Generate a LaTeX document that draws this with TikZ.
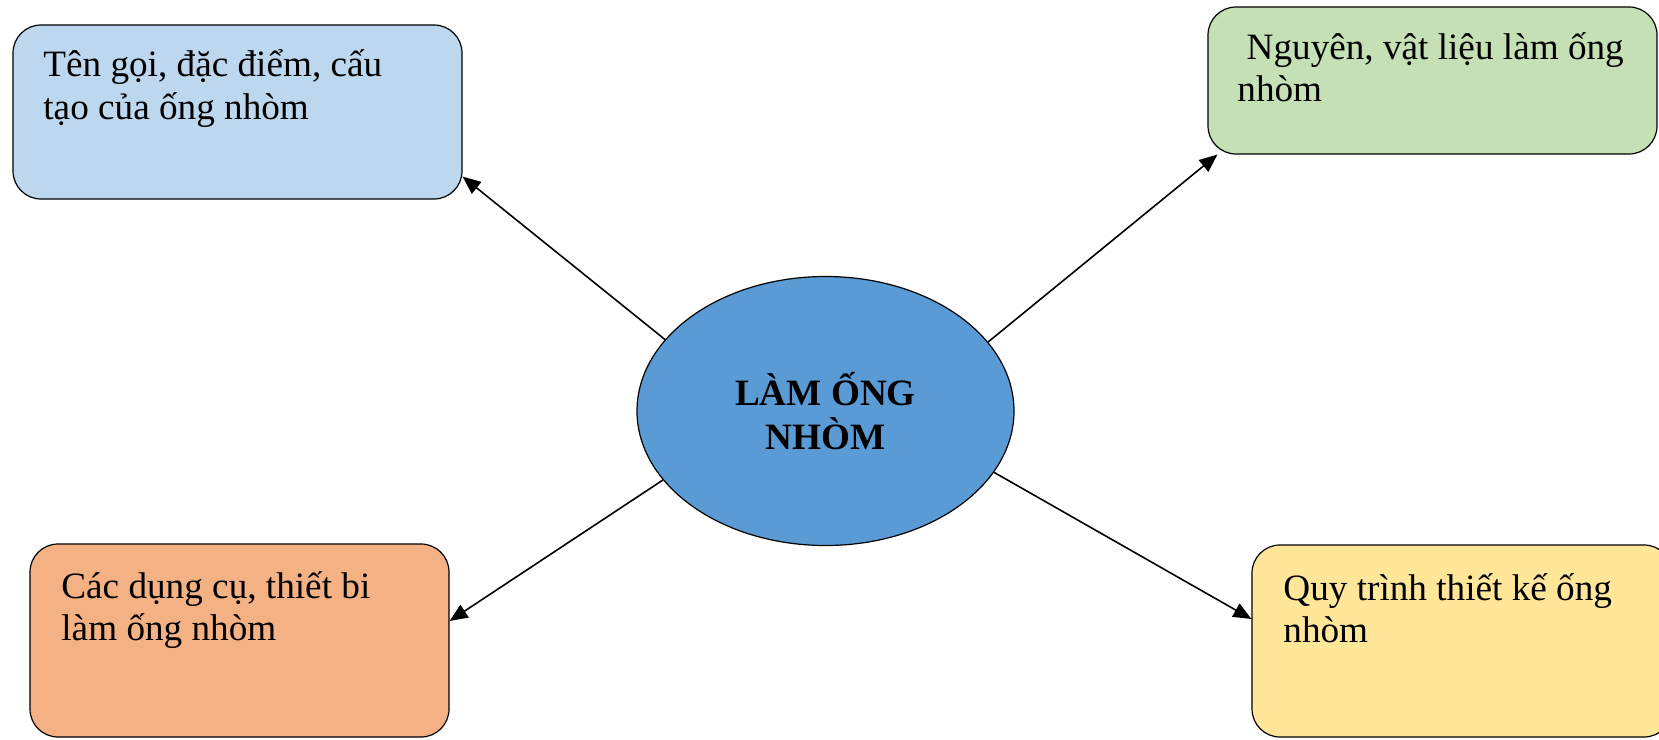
\documentclass[tikz,border=0pt]{standalone}
\usepackage{fontspec}
\setmainfont{Liberation Serif}
\usepackage{tikz}
\usetikzlibrary{arrows.meta,shapes.geometric}
\definecolor{boxblue}{HTML}{BDD7EE}
\definecolor{boxgreen}{HTML}{C5E0B4}
\definecolor{boxorange}{HTML}{F4B183}
\definecolor{boxyellow}{HTML}{FFE699}
\definecolor{centreblue}{HTML}{5B9BD5}
\begin{document}
\begin{tikzpicture}[x=0.5pt,y=-0.5pt]
					\tikzstyle{topic}=[rectangle,rounded corners=14pt,draw=black,line width=0.6pt,inner sep=0pt]
					\tikzstyle{centre}=[ellipse,draw=black,line width=0.6pt,fill=centreblue,inner sep=0pt,minimum width=188.5pt,minimum height=134.5pt,align=center,font=\fontsize{18.6}{22}\selectfont\bfseries]
					\tikzstyle{txt}=[anchor=base west,inner sep=0pt,align=left,font=\fontsize{18.6}{21}\selectfont]
					\tikzstyle{link}=[line width=0.8pt,-{Triangle[length=9pt,width=7.5pt]}]
					\useasboundingbox (0,0) rectangle (1659,739);
					\node[topic,fill=boxblue,minimum width=224.5pt,minimum height=87pt] (b1) at (237.5,112) {};
					\node[topic,fill=boxgreen,minimum width=224.5pt,minimum height=73.5pt] (b2) at (1432.5,80.5) {};
					\node[topic,fill=boxorange,minimum width=209.5pt,minimum height=96.5pt] (b3) at (239.5,640.5) {};
					\node[topic,fill=boxyellow,minimum width=210pt,minimum height=96pt] (b4) at (1462,641) {};
					\node[centre] (c) at (825.5,411) {LÀM ỐNG\\NHÒM};
					\node[txt] (t1) at (43,119) {Tên gọi, đặc điểm, cấu\\tạo của ống nhòm};
					\node[txt] (t2) at (1237,101) {\ Nguyên, vật liệu làm ống\\nhòm};
					\node[txt] (t3) at (61,640) {Các dụng cụ, thiết bi\\làm ống nhòm};
					\node[txt] (t4) at (1283,642) {Quy trình thiết kế ống\\nhòm};
					\draw[link] (c.156) -- ([yshift=11.5pt]b1.south east);
					\draw[link] (c.23) -- ([xshift=5pt]b2.south west);
					\draw[link] (c.203) -- ([yshift=9.75pt]b3.east);
					\draw[link] (c.-20) -- ([yshift=11pt]b4.west);
					\end{tikzpicture}
\end{document}
